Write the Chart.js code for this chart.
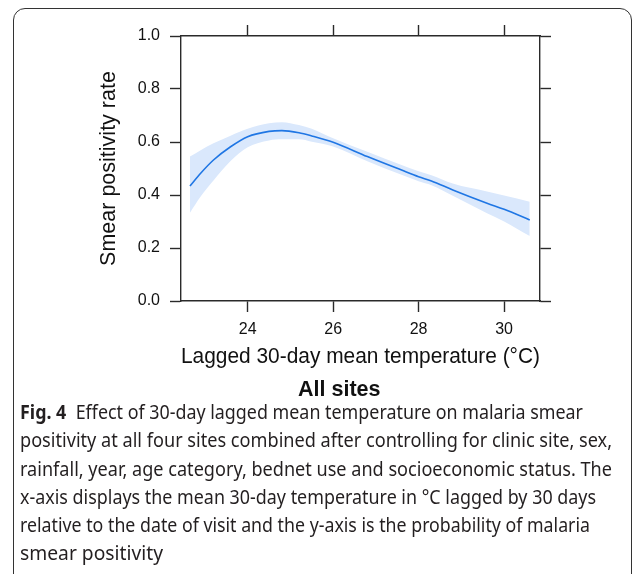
<!DOCTYPE html>
<html>
<head>
<meta charset="utf-8">
<script src="https://cdn.jsdelivr.net/npm/chart.js@4.4.1/dist/chart.umd.min.js"></script>
<style>
  html, body { margin: 0; padding: 0; background: #fff; width: 634px; height: 574px; overflow: hidden; }
  #frame { position: absolute; left: 13px; top: 8px; width: 619px; height: 585px; border: 1.3px solid #333; border-radius: 12px; box-sizing: border-box; }
  #chartBox { position: absolute; left: 0; top: 0; width: 634px; height: 400px; }
  #sub { position: absolute; left: 298px; top: 377px; font-family: "Liberation Sans", Arial, sans-serif; font-weight: bold; font-size: 21.5px; color: #111; white-space: nowrap; }
  #caption { position: absolute; left: 20px; top: 398px; font-family: "Noto Sans", "Open Sans", sans-serif; font-size: 20px; line-height: 28.3px; color: #231f20; white-space: nowrap; }
  #caption .ln { display: block; height: 28.3px; }
  #caption .ln span { display: inline-block; transform-origin: 0 50%; }
  #caption b { font-weight: bold; }
</style>
</head>
<body>
<div id="frame"></div>
<div id="chartBox"><canvas id="c" width="634" height="400"></canvas></div>
<div id="sub">All sites</div>
<div id="caption">
  <div class="ln"><span data-w="563"><b>Fig. 4</b>&nbsp; Effect of 30-day lagged mean temperature on malaria smear</span></div>
  <div class="ln"><span data-w="592">positivity at all four sites combined after controlling for clinic site, sex,</span></div>
  <div class="ln"><span data-w="592">rainfall, year, age category, bednet use and socioeconomic status. The</span></div>
  <div class="ln"><span data-w="576">x-axis displays the mean 30-day temperature in °C lagged by 30 days</span></div>
  <div class="ln"><span data-w="570">relative to the date of visit and the y-axis is the probability of malaria</span></div>
  <div class="ln"><span data-w="143">smear positivity</span></div>
</div>
<script>
// ---- data ----
const temps = [22.65, 22.9, 23.2, 23.6, 24.0, 24.5, 24.8, 25.2, 25.5, 26.0, 26.8, 27.6, 28.0, 28.3, 28.8, 29.6, 30.0, 30.6];
const fitRate = [0.434, 0.482, 0.532, 0.582, 0.620, 0.640, 0.643, 0.635, 0.623, 0.599, 0.545, 0.494, 0.469, 0.453, 0.419, 0.369, 0.346, 0.306];
const upperCI = [0.545, 0.569, 0.595, 0.624, 0.650, 0.671, 0.675, 0.664, 0.650, 0.614, 0.563, 0.513, 0.490, 0.475, 0.443, 0.413, 0.398, 0.375];
const lowerCI = [0.333, 0.394, 0.455, 0.528, 0.580, 0.606, 0.610, 0.610, 0.601, 0.583, 0.527, 0.476, 0.452, 0.437, 0.397, 0.331, 0.300, 0.245];
const xTicks = [24, 26, 28, 30];
const yTicks = [0.0, 0.2, 0.4, 0.6, 0.8, 1.0];
const xRange = [22.44, 30.84];
const yRange = [0, 1];
const xTitle = "Lagged 30-day mean temperature (°C)";
const yTitle = "Smear positivity rate";

// fit caption lines to the reference line widths
document.querySelectorAll('#caption .ln span').forEach(sp => {
  const w = sp.getBoundingClientRect().width;
  const target = parseFloat(sp.dataset.w);
  if (w > 0) sp.style.transform = 'scaleX(' + (target / w) + ')';
});

const pts = arr => temps.map((t, i) => ({ x: t, y: arr[i] }));
const axisColor = '#2a2a2a';
const tickFont = { family: '"Liberation Sans", Arial, sans-serif', size: 16 };
const titleFont = { family: '"Liberation Sans", Arial, sans-serif', size: 21.5 };

function gridOpts() {
  return { display: true, drawOnChartArea: false, drawTicks: true, tickLength: 11, tickWidth: 1.4, tickColor: axisColor };
}
function borderOpts() { return { display: true, color: axisColor, width: 1.4 }; }

new Chart(document.getElementById('c'), {
  type: 'line',
  data: {
    datasets: [
      { label: 'fit', data: pts(fitRate), borderWidth: 1.6, pointRadius: 0, fill: false, borderColor: '#1f76e4', cubicInterpolationMode: 'monotone', order: 0 },
      { label: 'upper', data: pts(upperCI), borderWidth: 0, pointRadius: 0, fill: '+1', backgroundColor: 'rgb(218,232,252)', borderColor: 'rgba(0,0,0,0)', cubicInterpolationMode: 'monotone', order: 1 },
      { label: 'lower', data: pts(lowerCI), borderWidth: 0, pointRadius: 0, fill: false, borderColor: 'rgba(0,0,0,0)', cubicInterpolationMode: 'monotone', order: 2 }
    ]
  },
  options: {
    responsive: false,
    animation: false,
    devicePixelRatio: 1,
    layout: { padding: { left: 0, right: 0, top: 0, bottom: 0 } },
    plugins: { legend: { display: false }, tooltip: { enabled: false }, title: { display: false } },
    scales: {
      x: {
        type: 'linear', position: 'bottom', min: xRange[0], max: xRange[1],
        afterBuildTicks: s => { s.ticks = xTicks.map(v => ({ value: v })); },
        afterFit: s => { s.height = 99; },
        ticks: { font: tickFont, color: '#111', padding: 8, maxRotation: 0, callback: v => String(v) },
        grid: gridOpts(), border: borderOpts(),
        title: { display: true, text: xTitle, font: titleFont, color: '#111', padding: { top: 0, bottom: 30 } }
      },
      x2: {
        type: 'linear', position: 'top', min: xRange[0], max: xRange[1],
        afterBuildTicks: s => { s.ticks = xTicks.map(v => ({ value: v })); },
        afterFit: s => { s.height = 36; },
        ticks: { display: false },
        grid: gridOpts(), border: borderOpts()
      },
      y: {
        type: 'linear', position: 'left', min: yRange[0], max: yRange[1],
        afterBuildTicks: s => { s.ticks = yTicks.map(v => ({ value: v })); },
        afterFit: s => { s.width = 181; },
        ticks: { font: tickFont, color: '#111', padding: 10, callback: v => Number(v).toFixed(1) },
        grid: gridOpts(), border: borderOpts(),
        title: { display: true, text: yTitle, font: titleFont, color: '#111', padding: { top: 96, bottom: 0 } }
      },
      y2: {
        type: 'linear', position: 'right', min: yRange[0], max: yRange[1],
        afterBuildTicks: s => { s.ticks = yTicks.map(v => ({ value: v })); },
        afterFit: s => { s.width = 94; },
        ticks: { display: false },
        grid: gridOpts(), border: borderOpts()
      }
    }
  }
});
</script>
</body>
</html>
